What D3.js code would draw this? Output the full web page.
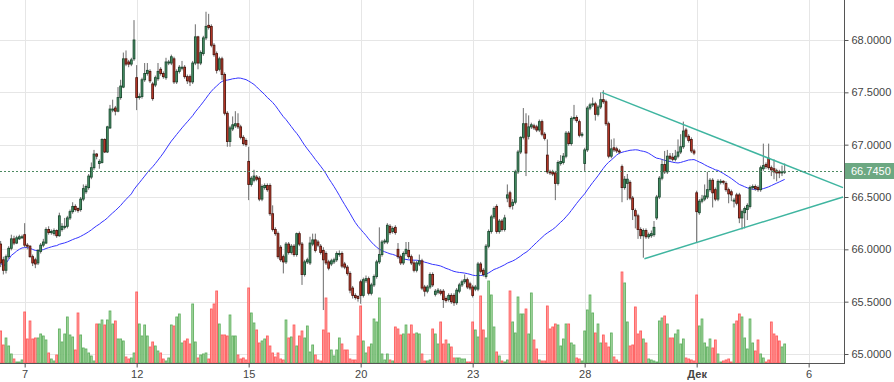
<!DOCTYPE html>
<html>
<head>
<meta charset="utf-8">
<script src="https://cdn.jsdelivr.net/npm/d3@7"></script>
<style>
  body { margin: 0; background: #fff; }
  svg { display: block; font-family: "Liberation Sans", Arial, sans-serif; }
</style>
</head>
<body>
<script>
(function() {

  var width = 894;
  var height = 382;
  var plotRight = 844;
  var plotBottom = 363;

  // hourly candles, one row per trading day (Nov 6 partial ... Dec 5 partial)
  var opens = [
    66.05,65.90,65.80,65.93,66.01,66.10,66.06,66.10,66.11,
    66.14,66.04,66.03,65.93,65.90,65.87,65.98,66.04,66.06,66.19,66.16,66.15,66.18,66.13,
    66.19,66.21,66.22,66.30,66.36,66.41,66.39,66.38,66.48,66.55,66.59,66.69,66.78,66.91,
    66.82,66.83,67.05,66.93,67.16,67.33,67.35,67.32,67.45,67.55,67.82,67.79,67.77,67.82,
    67.64,67.45,67.46,67.62,67.68,67.70,67.58,67.57,67.63,67.72,67.68,67.64,67.78,67.78,
    67.82,67.60,67.70,67.73,67.74,67.65,67.65,67.60,67.78,68.03,67.78,67.87,68.02,68.14,
    68.13,67.95,67.87,67.72,67.82,67.67,67.30,67.03,67.15,67.18,67.20,67.17,67.07,67.04,
    66.84,66.62,66.66,66.69,66.68,66.48,66.59,66.61,66.61,66.34,66.19,66.15,66.02,65.93,
    65.88,66.05,65.97,66.03,65.95,66.15,66.05,65.76,65.88,65.87,66.05,66.09,66.07,66.03,
    65.99,65.96,65.88,65.86,65.88,65.90,65.95,65.96,65.86,65.83,65.77,65.63,65.56,65.55,
    65.69,65.56,65.70,65.72,65.58,65.66,65.74,65.88,65.95,66.07,66.07,66.22,66.17,66.21,
    66.00,65.93,65.87,65.96,65.99,65.93,65.87,65.80,65.86,65.89,65.64,65.60,65.64,65.76,
    65.57,65.59,65.60,65.60,65.53,65.52,65.56,65.56,65.49,65.60,65.66,65.69,65.71,65.67,
    65.64,65.62,65.62,65.86,65.80,65.74,66.03,66.17,66.31,66.41,66.17,66.27,66.19,66.49,
    66.54,66.42,66.45,66.74,66.93,67.07,67.20,67.08,67.17,67.18,67.17,67.14,67.22,67.10,
    66.90,66.74,66.74,66.73,66.63,66.82,66.83,66.89,67.11,67.01,67.25,67.26,67.22,67.09,
    66.82,66.95,67.35,67.38,67.39,67.29,67.36,67.43,67.41,67.20,66.89,66.97,66.96,66.94,
    66.79,66.59,66.63,66.64,66.49,66.37,66.32,66.19,66.13,66.18,66.12,66.13,66.14,66.30,
    66.50,66.68,66.81,66.74,66.89,66.88,66.86,66.89,66.93,66.98,67.14,67.08,67.05,66.94,
    66.54,66.35,66.46,66.48,66.50,66.57,66.66,66.57,66.48,66.64,66.65,66.63,66.57,66.55,
    66.46,66.52,66.52,66.30,66.35,66.38,66.41,66.59,66.60,66.59,66.57,66.77,66.81,66.87,
    66.78,66.77,66.75,66.74,66.73,66.74
  ];
  var highs = [
    66.08,65.93,65.95,66.03,66.14,66.13,66.13,66.14,66.14,
    66.25,66.06,66.04,65.95,65.92,66.00,66.06,66.10,66.21,66.22,66.19,66.20,66.19,66.35,
    66.25,66.30,66.32,66.38,66.45,66.43,66.40,66.50,66.62,66.62,66.72,66.83,66.95,66.92,
    66.86,67.06,67.06,67.18,67.38,67.43,67.37,67.55,67.62,67.88,67.90,67.81,67.83,68.19,
    67.76,67.49,67.64,67.78,67.78,67.72,67.60,67.66,67.78,67.74,67.70,67.83,67.81,67.86,
    67.84,67.72,67.76,67.80,67.76,67.67,67.67,67.80,68.15,68.04,67.90,68.04,68.27,68.25,
    68.15,67.97,67.89,67.84,67.84,67.69,67.32,67.18,67.27,67.32,67.30,67.19,67.09,67.06,
    66.98,66.70,66.76,66.71,66.70,66.62,66.63,66.63,66.63,66.42,66.21,66.17,66.04,65.95,
    66.07,66.07,66.05,66.05,66.16,66.17,66.07,65.90,65.92,66.12,66.15,66.15,66.09,66.05,
    66.02,65.98,65.90,65.91,65.92,65.98,65.99,65.98,65.88,65.85,65.79,65.65,65.58,65.56,
    65.71,65.73,65.75,65.74,65.68,65.76,65.90,66.21,66.09,66.10,66.25,66.24,66.22,66.23,
    66.06,65.95,65.98,66.07,66.07,65.95,65.89,65.89,65.95,65.91,65.66,65.66,65.78,65.78,
    65.62,65.63,65.62,65.62,65.55,65.58,65.58,65.58,65.63,65.68,65.71,65.76,65.73,65.69,
    65.66,65.66,65.88,65.88,65.82,66.05,66.19,66.33,66.41,66.43,66.29,66.29,66.33,66.62,
    66.56,66.48,66.76,66.95,67.08,67.35,67.30,67.28,67.21,67.20,67.19,67.24,67.24,67.12,
    67.05,66.76,66.76,66.75,66.85,66.90,66.92,67.13,67.13,67.27,67.38,67.28,67.24,67.12,
    66.97,67.37,67.40,67.45,67.41,67.38,67.50,67.52,67.43,67.22,67.05,67.06,66.98,66.96,
    66.81,66.70,66.72,66.66,66.51,66.39,66.34,66.21,66.20,66.20,66.16,66.18,66.27,66.52,
    66.70,66.86,66.94,66.95,66.92,66.92,66.95,67.05,67.10,67.22,67.16,67.10,67.07,66.96,
    66.56,66.48,66.52,66.62,66.74,66.68,66.68,66.59,66.67,66.67,66.66,66.65,66.59,66.57,
    66.49,66.54,66.54,66.38,66.41,66.44,66.61,66.62,66.62,66.61,66.80,67.01,66.83,67.01,
    66.80,66.86,66.77,66.76,66.80,66.82
  ];
  var lows = [
    65.83,65.76,65.77,65.91,65.99,66.04,66.05,66.09,66.10,
    66.02,66.00,65.92,65.84,65.82,65.85,65.96,66.02,66.05,66.14,66.14,66.13,66.11,66.12,
    66.17,66.19,66.20,66.28,66.34,66.36,66.35,66.36,66.46,66.53,66.57,66.67,66.76,66.86,
    66.77,66.82,66.92,66.92,67.15,67.31,67.28,67.31,67.43,67.54,67.75,67.74,67.75,67.80,
    67.33,67.43,67.44,67.60,67.66,67.59,67.42,67.55,67.61,67.66,67.63,67.62,67.76,67.76,
    67.58,67.58,67.68,67.71,67.63,67.58,67.56,67.58,67.76,67.72,67.76,67.85,68.00,68.10,
    67.93,67.84,67.68,67.70,67.62,67.28,66.98,66.98,67.13,67.16,67.15,67.05,66.99,66.98,
    66.47,66.60,66.64,66.65,66.46,66.46,66.57,66.55,66.32,66.17,66.13,65.91,65.88,65.77,
    65.86,65.95,65.95,65.93,65.93,66.03,65.66,65.74,65.86,65.85,66.03,65.97,66.02,65.95,
    65.42,65.85,65.80,65.84,65.86,65.88,65.93,65.82,65.81,65.75,65.58,65.53,65.52,65.50,
    65.48,65.54,65.68,65.56,65.56,65.64,65.72,65.86,65.93,66.05,66.05,66.14,66.15,66.14,
    65.91,65.85,65.85,65.94,65.91,65.85,65.78,65.78,65.84,65.61,65.55,65.58,65.62,65.64,
    65.55,65.57,65.56,65.44,65.49,65.50,65.48,65.46,65.47,65.58,65.64,65.67,65.62,65.61,
    65.54,65.60,65.60,65.77,65.74,65.72,66.01,66.15,66.29,66.15,66.15,66.17,66.17,66.45,
    66.39,66.38,66.43,66.72,66.91,67.05,66.70,67.05,67.15,67.14,67.12,67.12,67.08,67.04,
    66.72,66.71,66.70,66.47,66.61,66.80,66.81,66.87,66.99,66.99,67.23,67.21,67.07,67.07,
    66.75,66.93,67.33,67.36,67.23,67.27,67.34,67.39,67.18,66.87,66.87,66.93,66.92,66.91,
    66.45,66.57,66.47,66.47,66.28,66.20,66.10,66.10,65.92,66.10,66.10,66.11,66.12,66.28,
    66.48,66.66,66.72,66.72,66.85,66.84,66.84,66.87,66.91,66.96,67.06,67.02,66.92,66.90,
    66.06,66.33,66.44,66.46,66.48,66.55,66.40,66.46,66.46,66.62,66.62,66.55,66.44,66.46,
    66.40,66.42,66.25,66.19,66.20,66.28,66.39,66.57,66.56,66.55,66.55,66.75,66.77,66.76,
    66.70,66.67,66.65,66.68,66.70,66.72
  ];
  var closes = [
    65.87,65.80,65.93,66.01,66.10,66.06,66.11,66.12,66.12,
    66.04,66.03,65.93,65.87,65.86,65.99,66.04,66.07,66.19,66.16,66.17,66.18,66.13,66.32,
    66.22,66.22,66.30,66.36,66.41,66.38,66.37,66.48,66.58,66.60,66.70,66.78,66.91,66.89,
    66.84,67.05,66.93,67.17,67.34,67.34,67.32,67.45,67.56,67.82,67.77,67.77,67.81,68.00,
    67.45,67.46,67.62,67.68,67.71,67.61,67.44,67.64,67.70,67.68,67.65,67.79,67.79,67.84,
    67.60,67.70,67.74,67.74,67.65,67.61,67.60,67.78,68.03,67.78,67.88,68.02,68.13,68.12,
    67.95,67.86,67.71,67.82,67.67,67.30,67.03,67.16,67.19,67.20,67.17,67.07,67.01,67.00,
    66.62,66.68,66.70,66.67,66.48,66.60,66.61,66.57,66.34,66.19,66.15,65.93,65.90,65.88,
    66.05,65.97,66.03,65.95,66.15,66.05,65.76,65.88,65.90,66.06,66.09,65.99,66.04,65.97,
    65.90,65.87,65.82,65.89,65.90,65.96,65.96,65.84,65.83,65.77,65.61,65.56,65.54,65.53,
    65.56,65.71,65.72,65.58,65.66,65.74,65.88,65.95,66.07,66.08,66.23,66.16,66.20,66.16,
    65.93,65.87,65.96,66.00,65.93,65.87,65.80,65.87,65.89,65.63,65.60,65.64,65.76,65.66,
    65.60,65.61,65.58,65.52,65.51,65.56,65.50,65.49,65.61,65.66,65.69,65.71,65.64,65.63,
    65.56,65.64,65.86,65.79,65.76,66.03,66.17,66.31,66.39,66.17,66.27,66.19,66.30,66.52,
    66.41,66.45,66.74,66.93,67.07,67.20,66.92,67.17,67.19,67.16,67.14,67.22,67.10,67.06,
    66.74,66.73,66.72,66.63,66.83,66.84,66.89,67.11,67.01,67.25,67.26,67.23,67.09,67.10,
    66.95,67.35,67.38,67.39,67.29,67.36,67.43,67.41,67.20,66.89,66.96,66.95,66.94,66.93,
    66.59,66.67,66.67,66.49,66.38,66.32,66.19,66.13,66.18,66.12,66.14,66.15,66.21,66.50,
    66.68,66.81,66.74,66.89,66.87,66.86,66.89,66.93,66.98,67.13,67.08,67.04,66.94,66.92,
    66.36,66.46,66.48,66.51,66.57,66.66,66.54,66.48,66.65,66.65,66.64,66.57,66.53,66.52,
    66.47,66.44,66.30,66.36,66.39,66.42,66.59,66.60,66.58,66.57,66.78,66.80,66.79,66.78,
    66.76,66.74,66.73,66.73,66.74,66.745
  ];
  var volumes = [
    32,18,25,17,9,4,1,1,3,
    51,24,42,24,25,25,29,27,23,10,4,2,8,34,
    21,29,46,28,26,13,50,28,15,14,10,7,2,39,
    39,43,38,43,52,39,42,24,24,22,6,4,5,10,
    71,39,27,38,27,16,21,17,12,10,4,2,5,38,
    37,46,49,20,22,24,19,59,21,5,8,9,10,4,
    54,59,72,39,28,28,27,48,27,27,8,4,5,3,
    75,50,40,33,20,22,24,27,17,10,6,10,4,3,
    43,25,26,38,17,27,32,25,37,11,18,8,3,2,
    33,65,30,13,7,13,25,19,13,13,4,3,3,27,
    57,22,10,16,19,44,41,65,9,3,9,3,2,36,
    34,28,29,38,29,38,29,30,29,9,2,2,3,34,
    29,19,41,19,23,19,16,5,5,5,4,4,1,1,
    41,33,26,67,33,25,82,68,36,11,7,2,1,3,
    72,41,30,66,49,49,54,29,70,23,14,3,2,2,
    57,34,36,39,38,17,24,39,39,20,18,5,4,2,
    32,53,68,50,30,39,20,28,20,16,30,6,3,1,
    91,80,41,17,18,56,29,32,24,20,4,3,2,1,
    42,45,47,39,25,25,29,33,19,24,5,4,3,2,
    68,37,44,20,16,24,15,23,9,1,2,3,4,1,
    39,42,49,46,25,14,44,20,12,23,9,5,1,3,
    41,29,27,22,16,19
  ];

  var dayTicks = [9, 51, 93, 135, 177, 219, 261, 303];
  var dayLabels = ['7', '12', '15', '20', '23', '28', 'Дек', '6'];
  var priceTicks = [65, 65.5, 66, 66.5, 67, 67.5, 68];
  var trendUpper = [[225.4, 67.50], [315.9, 66.59]];
  var trendLower = [[241.4, 65.91], [315.9, 66.50]];
  var maPeriod = 50;
  var lastPrice = closes[closes.length - 1];

  var candles = closes.map(function(c, i) {
    return { i: i, o: opens[i], h: highs[i], l: lows[i], c: c, v: volumes[i], up: c >= opens[i] };
  });

  var ma = candles.map(function(d, i) {
    var from = Math.max(0, i - maPeriod + 1);
    return { i: i, v: d3.mean(closes.slice(from, i + 1)) };
  });

  var x = d3.scaleLinear().domain([-0.25, 316.25]).range([0, plotRight]);
  var y = d3.scaleLinear().domain([65, 68]).range([354, 40]);
  var yVol = d3.scaleLinear().domain([0, 100]).range([plotBottom, plotBottom - 100]);

  var svg = d3.select('body')
    .append('svg')
      .attr('width', width)
      .attr('height', height);

  svg.append('defs').append('clipPath').attr('id', 'plot')
    .append('rect').attr('x', 0).attr('y', 0).attr('width', plotRight).attr('height', plotBottom);

  // grid
  svg.append('g').selectAll('line.h')
    .data(priceTicks).enter().append('line')
      .attr('x1', 0).attr('x2', plotRight)
      .attr('y1', function(d) { return Math.round(y(d)) + 0.5; })
      .attr('y2', function(d) { return Math.round(y(d)) + 0.5; })
      .style('stroke', '#e6e6e6');
  svg.append('g').selectAll('line.v')
    .data(dayTicks).enter().append('line')
      .attr('x1', function(d) { return Math.round(x(d)) + 0.5; })
      .attr('x2', function(d) { return Math.round(x(d)) + 0.5; })
      .attr('y1', 0).attr('y2', plotBottom)
      .style('stroke', '#e6e6e6');

  var plot = svg.append('g').attr('clip-path', 'url(#plot)');

  // volume
  plot.append('g').selectAll('rect')
    .data(candles).enter().append('rect')
      .attr('x', function(d) { return x(d.i) - 0.9; })
      .attr('width', 1.8)
      .attr('y', function(d) { return yVol(d.v); })
      .attr('height', function(d) { return plotBottom - yVol(d.v); })
      .style('fill', function(d) { return d.up ? '#a9d8a4' : '#ffa3a3'; })
      .style('stroke', function(d) { return d.up ? '#62b162' : '#ff5c5c'; })
      .style('stroke-width', 0.9);

  // moving average
  plot.append('path')
    .datum(ma)
    .attr('d', d3.line().x(function(d) { return x(d.i); }).y(function(d) { return y(d.v); }))
    .style('fill', 'none')
    .style('stroke', '#3535ff')
    .style('stroke-width', 1);

  // candles
  var cg = plot.append('g');
  cg.selectAll('line')
    .data(candles).enter().append('line')
      .attr('x1', function(d) { return x(d.i); })
      .attr('x2', function(d) { return x(d.i); })
      .attr('y1', function(d) { return y(d.h); })
      .attr('y2', function(d) { return y(d.l); })
      .style('stroke', '#6b6b6b')
      .style('stroke-width', 1);
  cg.selectAll('rect')
    .data(candles).enter().append('rect')
      .attr('x', function(d) { return x(d.i) - 0.9; })
      .attr('width', 1.8)
      .attr('y', function(d) { return y(Math.max(d.o, d.c)); })
      .attr('height', function(d) { return Math.max(0.8, Math.abs(y(d.o) - y(d.c))); })
      .style('fill', function(d) { return d.up ? '#4a9a6c' : '#cc3d2c'; })
      .style('stroke', function(d) { return d.up ? '#1d4a31' : '#4d1710'; })
      .style('stroke-width', 0.9);

  // trend lines
  [trendUpper, trendLower].forEach(function(t) {
    plot.append('line')
      .attr('x1', x(t[0][0])).attr('y1', y(t[0][1]))
      .attr('x2', x(t[1][0])).attr('y2', y(t[1][1]))
      .style('stroke', '#3fb5a0')
      .style('stroke-width', 1.5);
  });

  // last price line
  svg.append('line')
    .attr('x1', 0).attr('x2', plotRight)
    .attr('y1', Math.round(y(lastPrice)) + 0.5)
    .attr('y2', Math.round(y(lastPrice)) + 0.5)
    .style('stroke', '#4d8a62')
    .style('stroke-dasharray', '2,2');

  // axes
  var yAxis = svg.append('g')
    .attr('transform', 'translate(' + (plotRight + 0.5) + ',0)')
    .call(d3.axisRight(y).tickValues(priceTicks).tickFormat(d3.format('.4f')).tickSize(4).tickSizeOuter(0));
  yAxis.select('.domain').remove();
  yAxis.selectAll('line').style('stroke', '#555');
  yAxis.selectAll('text').style('font-size', '11px').style('fill', '#444')
    .style('font-family', '"Liberation Sans", Arial, sans-serif');

  var xAxis = svg.append('g')
    .attr('transform', 'translate(0,' + (plotBottom + 0.5) + ')')
    .call(d3.axisBottom(x).tickValues(dayTicks).tickFormat(function(d, i) { return dayLabels[i]; }).tickSize(4).tickSizeOuter(0));
  xAxis.select('.domain').remove();
  xAxis.selectAll('line').style('stroke', '#555');
  xAxis.selectAll('text').style('font-size', '11px').style('fill', '#444')
    .style('font-family', '"Liberation Sans", Arial, sans-serif')
    .style('font-weight', function(d, i) { return dayLabels[i] === 'Дек' ? 'bold' : 'normal'; });

  svg.append('line')
    .attr('x1', 0).attr('x2', plotRight + 1)
    .attr('y1', plotBottom + 0.5).attr('y2', plotBottom + 0.5)
    .style('stroke', '#555');
  svg.append('line')
    .attr('x1', plotRight + 0.5).attr('x2', plotRight + 0.5)
    .attr('y1', 0).attr('y2', plotBottom + 1)
    .style('stroke', '#555');

  // last price label
  var ly = y(lastPrice);
  svg.append('rect')
    .attr('x', plotRight + 1).attr('y', Math.round(ly) - 8)
    .attr('width', width - plotRight - 1).attr('height', 16)
    .style('fill', '#6ca882');
  svg.append('text')
    .attr('x', plotRight + 7).attr('y', ly)
    .attr('dy', '0.35em')
    .style('font-size', '11px')
    .style('fill', '#fff')
    .text(d3.format('.4f')(lastPrice));

})();
</script>
</body>
</html>
